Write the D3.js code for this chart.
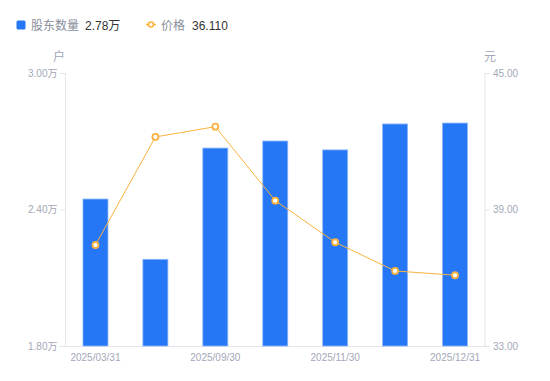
<!DOCTYPE html>
<html><head><meta charset="utf-8">
<script src="https://cdn.jsdelivr.net/npm/d3@7/dist/d3.min.js"></script>
<style>body{margin:0;background:#fff;font-family:"Noto Sans CJK SC","Noto Sans",sans-serif;}</style>
</head><body><svg id="c" width="550" height="381"></svg>
<script>
const categories = ["2025/03/31","2025/06/30","2025/09/30","2025/10/31","2025/11/30","2025/12/10","2025/12/31"];
const holders = [2.446, 2.181, 2.670, 2.701, 2.662, 2.776, 2.780]; // 万户
const prices = [37.44, 42.19, 42.64, 39.39, 37.56, 36.30, 36.11];
const leftTicks = [1.80, 2.40, 3.00];
const rightTicks = [33, 39, 45];
const shownLabels = ["2025/03/31","2025/09/30","2025/11/30","2025/12/31"];

const numFont = "'Liberation Sans', Arial, sans-serif";
const cjkNum = "'Liberation Sans', 'Noto Sans CJK SC', sans-serif";
const svg = d3.select("#c");
const L = 65.5, R = 485, T = 73, B = 346;
const x = d3.scaleBand().domain(categories).range([L, R]);
const yL = d3.scaleLinear().domain([1.8, 3.0]).range([B, T]);
const yR = d3.scaleLinear().domain([33, 45]).range([B, T]);
const axisCol = "#e3e5ea", tickCol = "#a3a7b7";

const gl = svg.append("g").attr("transform", `translate(${L},0)`)
  .call(d3.axisLeft(yL).tickValues(leftTicks).tickSize(6).tickPadding(2).tickFormat(d => d3.format(".2f")(d) + "万"));
const gr = svg.append("g").attr("transform", `translate(${R},0)`)
  .call(d3.axisRight(yR).tickValues(rightTicks).tickSize(5).tickPadding(3).tickFormat(d3.format(".2f")));
[gl, gr].forEach(g => {
  g.select(".domain").attr("stroke", axisCol).attr("d", `M0,${T}V${B}`);
  g.selectAll(".tick line").attr("stroke", axisCol);
  g.selectAll(".tick text").attr("fill", tickCol).style("font-size", "10px").style("font-family", cjkNum);
});

const gx = svg.append("g").attr("transform", `translate(0,${B})`)
  .call(d3.axisBottom(x).tickSize(0).tickPadding(8).tickFormat(d => shownLabels.includes(d) ? d : ""));
gx.select(".domain").attr("stroke", axisCol).attr("d", `M${L},0.5H${R}`);
gx.selectAll(".tick text").attr("fill", tickCol).style("font-size", "10px").style("font-family", numFont);

const bw = 25;
svg.append("g").selectAll("rect").data(holders).join("rect")
  .attr("x", (d, i) => x(categories[i]) + x.bandwidth() / 2 - bw / 2)
  .attr("y", d => yL(d))
  .attr("width", bw)
  .attr("height", d => B - yL(d))
  .attr("fill", "#2577f5")
  .attr("stroke", "#8db6fa").attr("stroke-width", 0.8);

const cx = (i) => x(categories[i]) + x.bandwidth() / 2;
svg.append("path").datum(prices)
  .attr("d", d3.line().x((d, i) => cx(i)).y(d => yR(d)))
  .attr("fill", "none").attr("stroke", "#fbb23f").attr("stroke-width", 1);
svg.append("g").selectAll("circle").data(prices).join("circle")
  .attr("cx", (d, i) => cx(i)).attr("cy", d => yR(d)).attr("r", 3)
  .attr("fill", "#fff").attr("stroke", "#fbb23f").attr("stroke-width", 1.8);

svg.append("text").attr("x", 59).attr("y", 61).attr("text-anchor", "middle")
  .attr("fill", tickCol).style("font-size", "12px").text("户");
svg.append("text").attr("x", 490).attr("y", 61).attr("text-anchor", "middle")
  .attr("fill", tickCol).style("font-size", "12px").text("元");

const lg = svg.append("g");
lg.append("rect").attr("x", 16.5).attr("y", 20.5).attr("width", 9).attr("height", 9).attr("rx", 1.5).attr("fill", "#2577f5");
lg.append("text").attr("x", 31).attr("y", 29.5).attr("fill", "#8a8e9c").style("font-size", "12px").text("股东数量");
lg.append("text").attr("x", 85).attr("y", 29.5).attr("fill", "#333").style("font-size", "12px").style("font-family", cjkNum).text("2.78万");
lg.append("line").attr("x1", 146).attr("x2", 156).attr("y1", 24.5).attr("y2", 24.5).attr("stroke", "#fbb23f").attr("stroke-width", 1.5);
lg.append("circle").attr("cx", 151).attr("cy", 24.5).attr("r", 2.5).attr("fill", "#fff").attr("stroke", "#fbb23f").attr("stroke-width", 1.6);
lg.append("text").attr("x", 161).attr("y", 29.5).attr("fill", "#8a8e9c").style("font-size", "12px").text("价格");
lg.append("text").attr("x", 192).attr("y", 29.5).attr("fill", "#333").style("font-size", "12px").style("font-family", numFont).text("36.110");
</script></body></html>
